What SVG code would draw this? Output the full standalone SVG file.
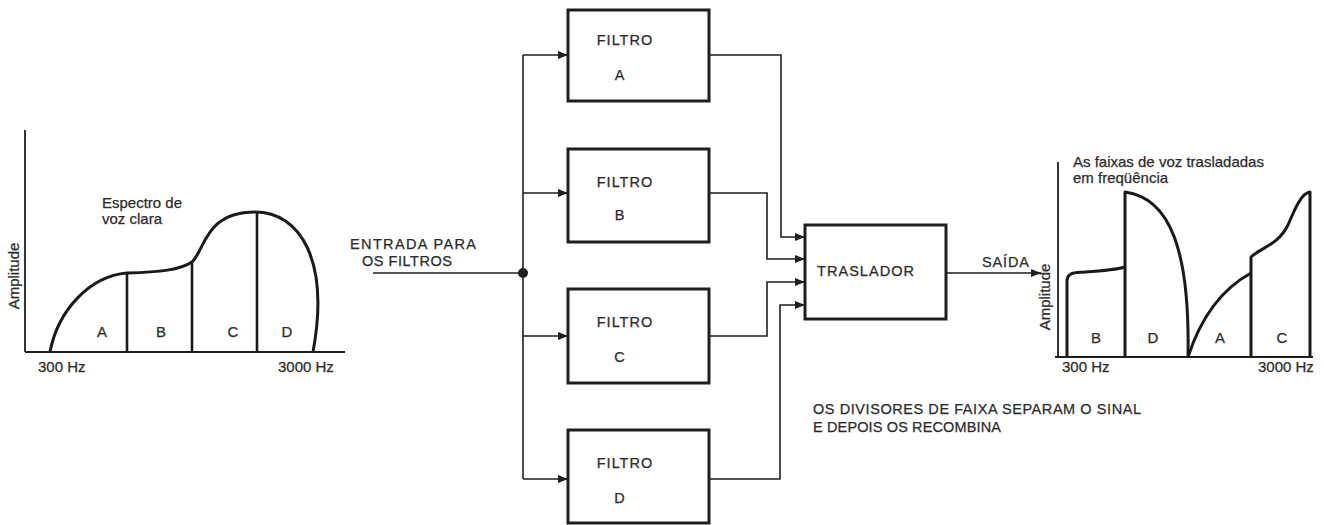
<svg xmlns="http://www.w3.org/2000/svg" width="1324" height="525" viewBox="0 0 1324 525">
<style>
text{font-family:"Liberation Sans",Arial,sans-serif;fill:#2b2b2b;stroke:#2b2b2b;stroke-width:0.25}
.lbl{font-size:15px}
.cap{font-size:14.5px;letter-spacing:1px}
.box{fill:none;stroke:#1e1e1e;stroke-width:3}
.wire{fill:none;stroke:#1e1e1e;stroke-width:1.6}
.axis{fill:none;stroke:#1e1e1e;stroke-width:1.8}
.curve{fill:none;stroke:#1a1a1a;stroke-width:3;stroke-linejoin:round}
.bar{fill:none;stroke:#1a1a1a;stroke-width:2.6}
</style>
<defs>
<marker id="arr" viewBox="0 0 10 8" refX="10" refY="4" markerWidth="10" markerHeight="8" markerUnits="userSpaceOnUse" orient="auto">
<path d="M0,0 L10,4 L0,8 Z" fill="#1e1e1e"/>
</marker>
</defs>
<rect width="1324" height="525" fill="#ffffff"/>

<g id="spectrum-in">
<path class="axis" d="M25,130 V352 M25,352 H345"/>
<path class="curve" d="M50,352 C58,310 90,276 127,273 C160,272 180,270 192,262 C205,250 205,212 255,212 C300,212 330,260 313,352"/>
<path class="bar" d="M127,273 V352 M192,263 V352 M257,212 V352"/>
<text class="lbl" x="102" y="208">Espectro de</text>
<text class="lbl" x="102" y="224">voz clara</text>
<text class="lbl" transform="translate(19,276) rotate(-90)" text-anchor="middle">Amplitude</text>
<text class="lbl" x="102" y="337" text-anchor="middle">A</text>
<text class="lbl" x="161" y="337" text-anchor="middle">B</text>
<text class="lbl" x="233" y="337" text-anchor="middle">C</text>
<text class="lbl" x="287" y="337" text-anchor="middle">D</text>
<text class="lbl" x="38" y="372">300 Hz</text>
<text class="lbl" x="278" y="372">3000 Hz</text>
</g>

<g id="input-label">
<text class="cap" x="350" y="249" textLength="127">ENTRADA PARA</text>
<text class="cap" x="362" y="266" textLength="91">OS FILTROS</text>
</g>

<g id="filtro-a">
<rect class="box" x="568" y="10" width="141" height="91"/>
<text class="cap" x="625" y="45" text-anchor="middle">FILTRO</text>
<text class="cap" x="620" y="80" text-anchor="middle">A</text>
</g>
<g id="filtro-b">
<rect class="box" x="568" y="149" width="141" height="93"/>
<text class="cap" x="625" y="187" text-anchor="middle">FILTRO</text>
<text class="cap" x="620" y="220" text-anchor="middle">B</text>
</g>
<g id="filtro-c">
<rect class="box" x="568" y="289" width="141" height="94"/>
<text class="cap" x="625" y="327" text-anchor="middle">FILTRO</text>
<text class="cap" x="620" y="362" text-anchor="middle">C</text>
</g>
<g id="filtro-d">
<rect class="box" x="568" y="430" width="141" height="93"/>
<text class="cap" x="625" y="468" text-anchor="middle">FILTRO</text>
<text class="cap" x="620" y="503" text-anchor="middle">D</text>
</g>

<g id="traslador">
<rect class="box" x="805" y="225" width="141" height="94"/>
<text class="cap" x="817" y="276" textLength="98">TRASLADOR</text>
</g>

<g id="connectors">
<path class="wire" d="M373,273 H523"/>
<circle cx="523" cy="273" r="5" fill="#1e1e1e"/>
<path class="wire" d="M523,55 V479"/>
<path class="wire" marker-end="url(#arr)" d="M523,55 H568"/>
<path class="wire" marker-end="url(#arr)" d="M523,193 H568"/>
<path class="wire" marker-end="url(#arr)" d="M523,336 H568"/>
<path class="wire" marker-end="url(#arr)" d="M523,479 H568"/>
<path class="wire" marker-end="url(#arr)" d="M709,55 H781 V237 H805"/>
<path class="wire" marker-end="url(#arr)" d="M709,193 H767 V259 H805"/>
<path class="wire" marker-end="url(#arr)" d="M709,336 H767 V282 H805"/>
<path class="wire" marker-end="url(#arr)" d="M709,479 H780 V305 H805"/>
<path class="wire" marker-end="url(#arr)" d="M946,273 H1041"/>
<text class="cap" x="982" y="267" textLength="48">SAÍDA</text>
</g>

<g id="caption">
<text class="cap" x="813" y="414" textLength="329">OS DIVISORES DE FAIXA SEPARAM O SINAL</text>
<text class="cap" x="813" y="432" textLength="189">E DEPOIS OS RECOMBINA</text>
</g>

<g id="spectrum-out">
<path class="axis" d="M1058,162 V357 M1055,357 H1313"/>
<path class="curve" d="M1067,357 V280 C1068,272 1075,273 1085,272 C1100,271 1115,270 1125,267"/>
<path class="curve" d="M1125,357 V192 C1170,198 1190,250 1188,357"/>
<path class="curve" d="M1188,357 C1200,320 1220,290 1251,273"/>
<path class="curve" d="M1251,357 V257 C1262,247 1278,245 1288,225 C1296,206 1302,193 1310,192 V357"/>
<text class="lbl" x="1073" y="167">As faixas de voz trasladadas</text>
<text class="lbl" x="1073" y="183">em freqüência</text>
<text class="lbl" transform="translate(1050,297) rotate(-90)" text-anchor="middle">Amplitude</text>
<text class="lbl" x="1096" y="343" text-anchor="middle">B</text>
<text class="lbl" x="1153" y="343" text-anchor="middle">D</text>
<text class="lbl" x="1220" y="343" text-anchor="middle">A</text>
<text class="lbl" x="1282" y="343" text-anchor="middle">C</text>
<text class="lbl" x="1062" y="372">300 Hz</text>
<text class="lbl" x="1258" y="372">3000 Hz</text>
</g>
</svg>
